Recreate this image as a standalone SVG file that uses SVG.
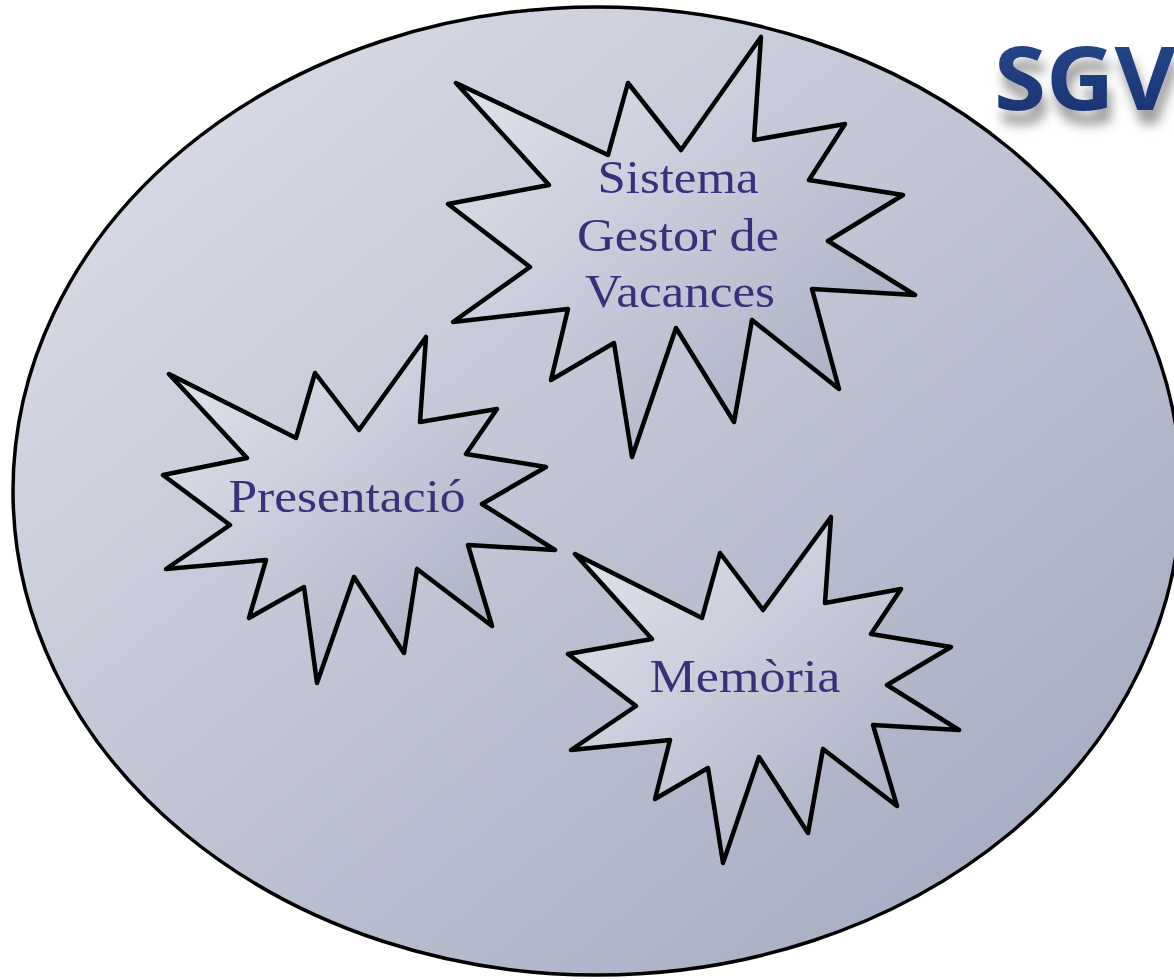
<svg xmlns="http://www.w3.org/2000/svg" width="1174" height="980" viewBox="0 0 1174 980">
  <style>
    .star { stroke: #000; stroke-width: 4.5; stroke-linejoin: round; }
    .lbl { font-family: "Liberation Serif", "DejaVu Serif", serif; font-size: 46px; fill: #3b2f7a; text-anchor: middle; }
    .logo { font-family: "Open Sans", "DejaVu Sans", sans-serif; font-weight: bold; font-size: 88px; }
  </style>
  <defs>
    <linearGradient id="bgGrad" x1="0" y1="0" x2="1" y2="1">
      <stop offset="0" stop-color="#dfe1e9"/>
      <stop offset="1" stop-color="#a0a6be"/>
    </linearGradient>
    <linearGradient id="starGrad" x1="0" y1="0" x2="1" y2="1">
      <stop offset="0" stop-color="#e4e6ed"/>
      <stop offset="1" stop-color="#a3a8c0"/>
    </linearGradient>
    <linearGradient id="logoGrad" x1="0" y1="0" x2="0" y2="1">
      <stop offset="0" stop-color="#2a4c90"/>
      <stop offset="1" stop-color="#152f6c"/>
    </linearGradient>
    <filter id="shadow" x="-20%" y="-30%" width="150%" height="190%">
      <feGaussianBlur in="SourceAlpha" stdDeviation="6" result="b"/>
      <feOffset in="b" dx="4" dy="14" result="o"/>
      <feFlood flood-color="#000" flood-opacity="0.4"/>
      <feComposite in2="o" operator="in" result="s"/>
      <feMerge>
        <feMergeNode in="s"/>
        <feMergeNode in="SourceGraphic"/>
      </feMerge>
    </filter>
  </defs>

  <rect width="1174" height="980" fill="#ffffff"/>

  <g id="sgv-system">
    <ellipse cx="597" cy="491" rx="584" ry="484" fill="url(#bgGrad)" stroke="#000" stroke-width="3.5"/>
  </g>

  <g id="sgv-logo">
    <text class="logo" x="994" y="110" fill="url(#logoGrad)" filter="url(#shadow)" textLength="182" lengthAdjust="spacingAndGlyphs">SGV</text>
  </g>

  <g id="sistema-gestor">
    <path class="star" fill="url(#starGrad)" d="M456,83 L608,155 L628,83 L681,150 L761,37 L754,140 L845,124 L809,180 L903,195 L828,241 L915,295 L812,289 L839,389 L752,320 L734,422 L676,328 L632,457 L614,343 L551,380 L568,309 L453,322 L530,267 L448,204 L549,185 Z"/>
    <text class="lbl" x="678" y="193" textLength="161" lengthAdjust="spacingAndGlyphs">Sistema</text>
    <text class="lbl" x="678" y="251" textLength="202" lengthAdjust="spacingAndGlyphs">Gestor de</text>
    <text class="lbl" x="680" y="307" textLength="190" lengthAdjust="spacingAndGlyphs">Vacances</text>
  </g>

  <g id="presentacio">
    <path class="star" fill="url(#starGrad)" d="M169,374 L296,438 L315,373 L359,430 L426,337 L420,422 L497,409 L466,454 L546,467 L482,504 L555,550 L468,545 L492,626 L417,569 L404,653 L354,577 L317,683 L304,587 L249,618 L266,560 L166,569 L230,525 L163,475 L247,458 Z"/>
    <text class="lbl" x="347" y="512" textLength="237" lengthAdjust="spacingAndGlyphs">Presentació</text>
  </g>

  <g id="memoria">
    <path class="star" fill="url(#starGrad)" d="M575,554 L702,618 L720,553 L763,610 L831,517 L825,603 L901,589 L871,634 L951,647 L887,685 L959,730 L873,725 L897,806 L823,749 L808,833 L759,757 L723,863 L708,768 L655,799 L670,740 L571,750 L636,706 L568,654 L652,639 Z"/>
    <text class="lbl" x="745" y="692" textLength="191" lengthAdjust="spacingAndGlyphs">Memòria</text>
  </g>

  <g id="connectors"/>
</svg>
